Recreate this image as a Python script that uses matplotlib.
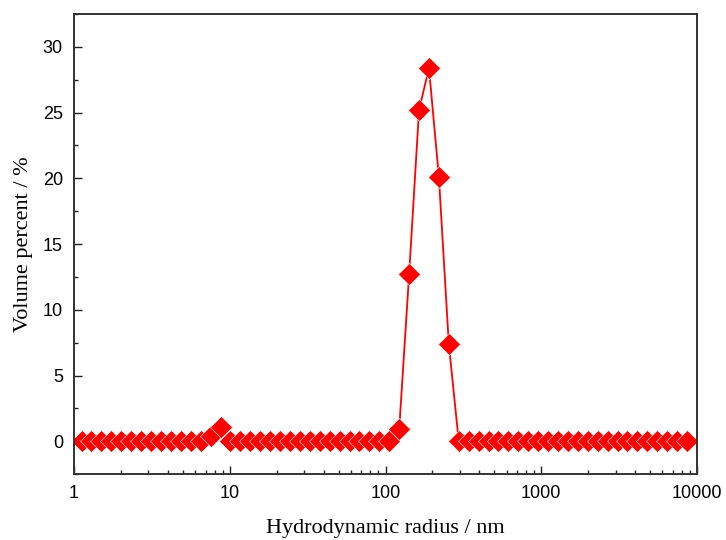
import matplotlib.pyplot as plt
from matplotlib.ticker import MultipleLocator, LogLocator, NullFormatter

# Size classes (nm) and volume distribution (%)
radius = [1.117, 1.294, 1.499, 1.736, 2.01, 2.328, 2.696, 3.122, 3.615, 4.187,
          4.849, 5.615, 6.503, 7.531, 8.721, 10.1, 11.7, 13.54, 15.69, 18.17,
          21.04, 24.36, 28.21, 32.67, 37.84, 43.82, 50.75, 58.77, 68.06, 78.82,
          91.28, 105.7, 122.4, 141.8, 164.2, 190.1, 220.2, 255.0, 295.3, 342.0,
          396.1, 458.7, 531.2, 615.1, 712.4, 825.0, 955.4, 1106, 1281, 1484,
          1718, 1990, 2305, 2669, 3091, 3580, 4145, 4801, 5560, 6439, 7456, 8635]
volume = [0, 0, 0, 0, 0, 0, 0, 0, 0, 0,
          0, 0, 0, 0.4, 1.1, 0, 0, 0, 0, 0,
          0, 0, 0, 0, 0, 0, 0, 0, 0, 0,
          0, 0, 0.9, 12.7, 25.2, 28.4, 20.1, 7.4, 0, 0,
          0, 0, 0, 0, 0, 0, 0, 0, 0, 0,
          0, 0, 0, 0, 0, 0, 0, 0, 0, 0,
          0, 0]

fig = plt.figure(figsize=(7.26, 5.4), dpi=100)
ax = fig.add_axes([0.102, 0.122, 0.858, 0.852])

ax.plot(radius, volume, color='red', lw=1.3, marker='D', markersize=11,
        markerfacecolor='red', markeredgecolor='white', markeredgewidth=0.4)

ax.set_xscale('log')
ax.set_xlim(1, 10000)
ax.set_ylim(-2.5, 32.5)
ax.set_xticks([1, 10, 100, 1000, 10000])
ax.set_xticklabels(['1', '10', '100', '1000', '10000'])
ax.xaxis.set_minor_locator(LogLocator(base=10, subs=range(2, 10)))
ax.xaxis.set_minor_formatter(NullFormatter())
ax.yaxis.set_major_locator(MultipleLocator(5))
ax.yaxis.set_minor_locator(MultipleLocator(2.5))

ax.tick_params(which='both', direction='in', top=False, right=False, width=1.0, color='#222222')
ax.tick_params(which='major', length=6, labelsize=13, pad=8)
ax.tick_params(which='minor', length=3)
for lab in ax.get_xticklabels() + ax.get_yticklabels():
    lab.set_family('Liberation Sans')

for sp in ax.spines.values():
    sp.set_linewidth(1.4)
    sp.set_color('#333333')

ax.set_xlabel('Hydrodynamic radius / nm', fontsize=16, family='Liberation Serif', labelpad=12)
ax.set_ylabel('Volume percent / %', fontsize=16, family='Liberation Serif', labelpad=7)

fig.savefig('out.png', dpi=100)
